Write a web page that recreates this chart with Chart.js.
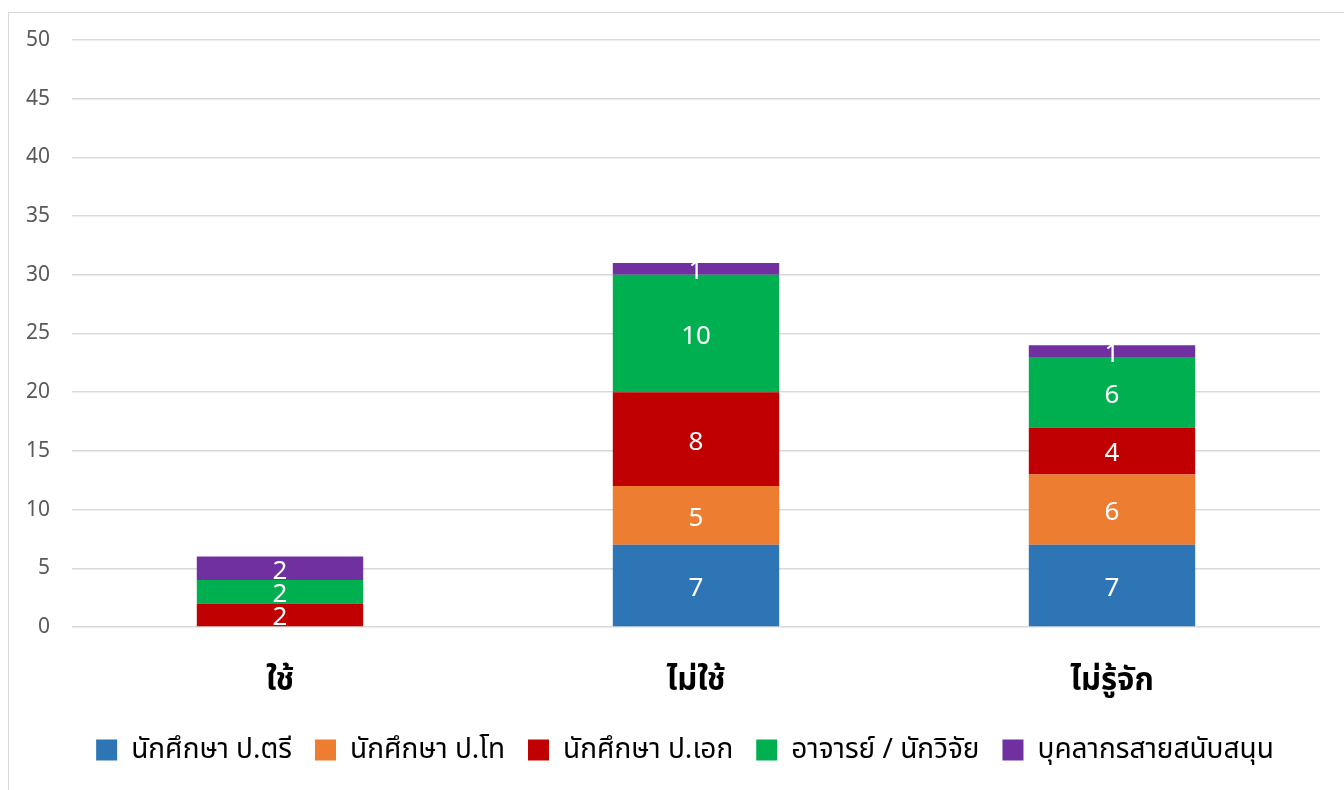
<!DOCTYPE html>
<html>
<head>
<meta charset="utf-8">
<script src="https://cdn.jsdelivr.net/npm/chart.js@4.4.1/dist/chart.umd.min.js"></script>
<style>
html,body{margin:0;padding:0;background:#fff;overflow:hidden;}
#frame{position:absolute;left:8px;top:12px;width:1400px;height:900px;border:1px solid #d9d9d9;box-sizing:border-box;}
#wrap{position:absolute;left:0;top:0;width:1344px;height:790px;}
</style>
</head>
<body>
<div id="frame"></div>
<div id="wrap"><canvas id="c" width="1344" height="790"></canvas></div>
<script>
const categories = ["ใช้", "ไม่ใช้", "ไม่รู้จัก"];
const seriesNames = ["นักศึกษา ป.ตรี", "นักศึกษา ป.โท", "นักศึกษา ป.เอก", "อาจารย์ / นักวิจัย", "บุคลากรสายสนับสนุน"];
const bachelor = [0, 7, 7];
const master = [0, 5, 6];
const doctoral = [2, 8, 4];
const faculty = [2, 10, 6];
const support = [2, 1, 1];
const yTicks = [0, 5, 10, 15, 20, 25, 30, 35, 40, 45, 50];
const colors = ["#2E75B6", "#ED7D31", "#C00000", "#00B050", "#7030A0"];

const FONT = "'Noto Sans', 'Noto Sans Thai', 'DejaVu Sans', sans-serif";
const allSeries = [bachelor, master, doctoral, faculty, support];

const labelPlugin = {
  id: 'segLabels',
  afterLayout(chart) {
    if (chart.legend) {
      chart.legend.left += 25;
      chart.legend.right += 25;
    }
  },
  afterDatasetsDraw(chart) {
    const ctx = chart.ctx;
    ctx.save();
    ctx.fillStyle = '#ffffff';
    ctx.font = "26px " + FONT;
    ctx.textAlign = 'center';
    ctx.textBaseline = 'middle';
    chart.data.datasets.forEach((ds, i) => {
      const meta = chart.getDatasetMeta(i);
      meta.data.forEach((el, j) => {
        const v = ds.data[j];
        if (!v) return;
        const y = (el.y + el.base) / 2;
        ctx.fillText(String(v), el.x, y + 3);
      });
    });
    ctx.restore();
  }
};

new Chart(document.getElementById('c'), {
  type: 'bar',
  data: {
    labels: categories,
    datasets: seriesNames.map((n, i) => ({
      label: n,
      data: allSeries[i],
      backgroundColor: colors[i],
      borderWidth: 0,
      barPercentage: 0.4,
      categoryPercentage: 1.0
    }))
  },
  options: {
    responsive: false,
    animation: false,
    devicePixelRatio: 1,
    layout: { padding: { left: 0, right: 24, top: 40, bottom: 16 } },
    plugins: {
      tooltip: { enabled: false },
      legend: {
        position: 'bottom',
        labels: {
          boxWidth: 21,
          boxHeight: 21,
          padding: 23,
          color: '#000000',
          font: { family: FONT, size: 28 }
        }
      }
    },
    scales: {
      x: {
        stacked: true,
        grid: { display: false, drawTicks: false },
        border: { display: false },
        ticks: {
          color: '#000000',
          padding: 36,
          font: { family: FONT, size: 31, weight: 'bold' }
        },
        afterFit(scale) { scale.height = 86; }
      },
      y: {
        stacked: true,
        min: 0,
        max: 50,
        afterBuildTicks(scale) { scale.ticks = yTicks.map(v => ({ value: v })); },
        grid: { color: '#d9d9d9', lineWidth: 1.5, drawTicks: false },
        border: { display: false },
        ticks: {
          color: '#595959',
          padding: 22,
          font: { family: FONT, size: 21 }
        },
        afterFit(scale) { scale.width = 72; }
      }
    }
  },
  plugins: [labelPlugin]
});
</script>
</body>
</html>
